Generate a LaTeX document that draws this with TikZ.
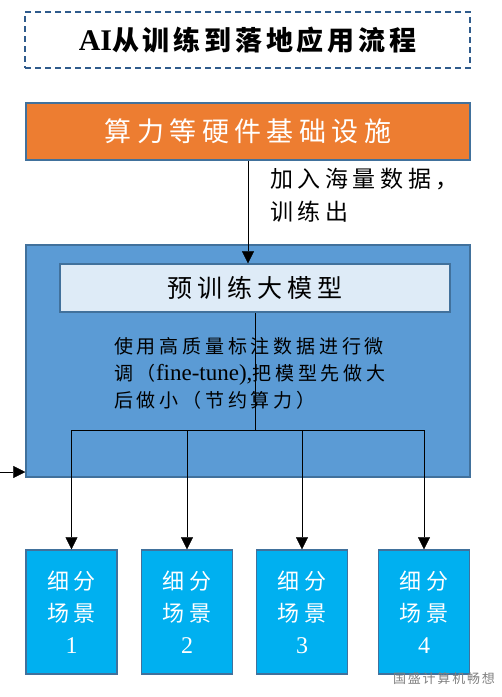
\documentclass[tikz,border=0pt]{standalone}
\usepackage{fontspec}
\setmainfont{Liberation Serif}
\newfontfamily\cjk[LetterSpace=20]{Noto Sans CJK SC}
\newfontfamily\cjktitle[LetterSpace=14]{Noto Sans CJK SC}
\usetikzlibrary{arrows.meta}
\definecolor{edge}{HTML}{41719C}
\definecolor{dashblue}{HTML}{2F5B8C}
\definecolor{infra}{HTML}{ED7D31}
\definecolor{outer}{HTML}{5B9BD5}
\definecolor{inner}{HTML}{DEEBF7}
\definecolor{scene}{HTML}{00B0F0}

\begin{document}
\begin{tikzpicture}[x=1pt,y=-1pt,>={Triangle[length=12pt,width=12pt]}]
      \tikzstyle{every node}=[inner sep=0pt];
      \tikzstyle{box}=[draw=edge,line width=1.5pt,shape=rectangle];
      \tikzstyle{scenebox}=[box,fill=scene,minimum width=91pt,minimum height=124pt,
        text=white,align=center,font=\fontsize{22}{32}\selectfont\cjk];
        \useasboundingbox (0,0) rectangle (502,697);

        % title
        \path (247.5,40) node[draw=dashblue,line width=2pt,dash pattern=on 6pt off 4pt,
          minimum width=445pt,minimum height=56pt,font=\bfseries]
          (title) {{\fontsize{30}{30}\selectfont AI}{\fontsize{27}{30}\selectfont\cjktitle 从训练到落地应用流程}};

        % boxes
        \path (248,131.5) node[box,fill=infra,minimum width=444pt,minimum height=57pt,
          text=white,font=\fontsize{27}{30}\selectfont\cjk] (infra) {算力等硬件基础设施};
        \path (248,361) node[box,fill=outer,minimum width=444pt,minimum height=232pt] (big) {};
        \path (255,288) node[box,fill=inner,minimum width=390pt,minimum height=48pt,
          font=\fontsize{25}{30}\selectfont\cjk] (model) {预训练大模型};
        \path (71.5,612) node[scenebox] (s1) {细分\\场景\\{\rmfamily\fontsize{24}{32}\selectfont 1}};
        \path (187,612) node[scenebox] (s2) {细分\\场景\\{\rmfamily\fontsize{24}{32}\selectfont 2}};
        \path (302,612) node[scenebox] (s3) {细分\\场景\\{\rmfamily\fontsize{24}{32}\selectfont 3}};
        \path (424,612) node[scenebox] (s4) {细分\\场景\\{\rmfamily\fontsize{24}{32}\selectfont 4}};

        % labels
        \path (270,168) node[anchor=north west,align=left,
          font=\fontsize{23}{33}\selectfont\cjk] (data) {加入海量数据，\\训练出};
        \path (114,337) node[anchor=north west,align=left,
          font=\fontsize{19}{27}\selectfont\cjk] (tune)
          {使用高质量标注数据进行微\\调（{\rmfamily\fontsize{23}{27}\selectfont fine-tune),}把模型先做大\\后做小（节约算力）};
        \path (444,679) node[text=gray,font=\fontsize{13}{15}\selectfont\cjktitle] (mark) {国盛计算机畅想};

        % connectors
        \coordinate (bus) at (255,430);
        \coordinate (in) at (0,472);
        \path[->,draw] (infra.south) -- (infra.south |- model.north);
        \path[draw] (model.south) -- (bus);
        \path[draw] (s1.north |- bus) -- (s4.north |- bus);
        \foreach \i in {1,2,3,4}
          \path[->,draw] (s\i.north |- bus) -- (s\i.north);
        \path[->,draw] (in) -- (in -| big.west);
    \end{tikzpicture}
\end{document}
